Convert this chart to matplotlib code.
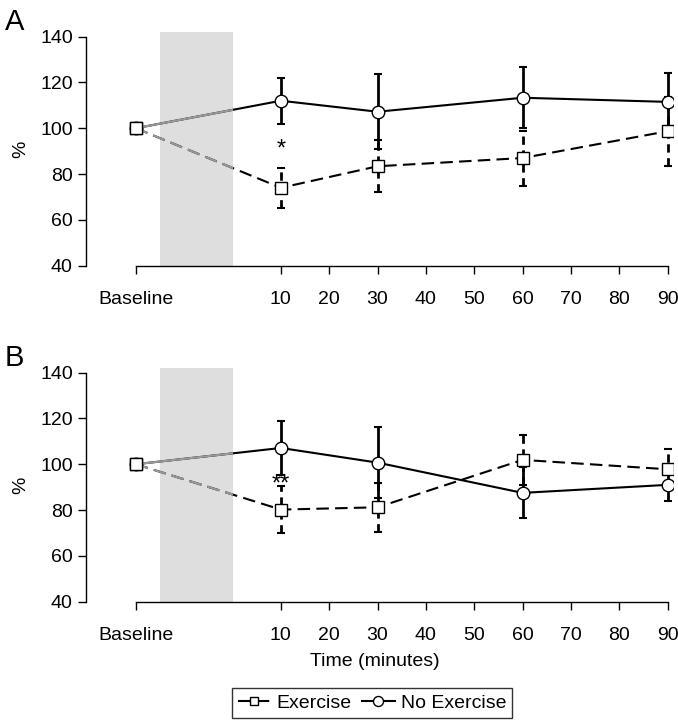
import matplotlib
matplotlib.use("Agg")
import matplotlib.pyplot as plt
from matplotlib.patches import Rectangle

plt.rcParams['font.family'] = ['Liberation Sans', 'DejaVu Sans']

# ---- data ----
time_points = [-20, 10, 30, 60, 90]          # -20 = Baseline position
tick_positions = [-20, 10, 20, 30, 40, 50, 60, 70, 80, 90]
tick_labels = ["Baseline", "10", "20", "30", "40", "50", "60", "70", "80", "90"]
exercise_period = (-15, 0)

# Panel A
a_exercise = [100, 74.0, 83.4, 87.0, 98.7]
a_exercise_err = [0, 8.6, 11.4, 12.0, 15.0]
a_noex = [100, 112.0, 107.2, 113.3, 111.5]
a_noex_err = [0, 10.0, 16.3, 13.3, 12.8]
a_sig = ("*", 10, 90.5)

# Panel B
b_exercise = [100, 80.2, 81.2, 101.9, 97.8]
b_exercise_err = [0, 10.2, 10.6, 10.9, 8.9]
b_noex = [100, 107.1, 100.7, 87.5, 91.0]
b_noex_err = [0, 11.6, 15.4, 11.1, 7.0]
b_sig = ("**", 10, 91.0)

yticks = [40, 60, 80, 100, 120, 140]

fig = plt.figure(figsize=(6.78, 7.23), dpi=100)

ax_left = 86 / 678
ax_w = (672.5 - 86) / 678
ax_h = 233.7 / 723
axA = fig.add_axes([ax_left, (723 - 265.7) / 723, ax_w, ax_h])
axB = fig.add_axes([ax_left, (723 - 601.7) / 723, ax_w, ax_h])


def draw(ax, ex, ex_err, nx, nx_err, sig):
    ax.set_xlim(-30.3, 91)
    ax.set_ylim(40, 142)
    ax.axvspan(exercise_period[0], exercise_period[1], color="#dedede", lw=0, zorder=0)

    # error bars
    e1 = ax.errorbar(time_points[1:], ex[1:], yerr=ex_err[1:], fmt="none",
                     ecolor="black", elinewidth=2, capsize=3, capthick=1.5, zorder=2)
    e1[2][0].set_linestyle((0, (3, 2)))
    ax.errorbar(time_points[1:], nx[1:], yerr=nx_err[1:], fmt="none",
                ecolor="black", elinewidth=2, capsize=3, capthick=1.5, zorder=2)

    # lines
    l1, = ax.plot(time_points, ex, color="black", lw=1.5, ls=(0, (6, 3)), zorder=3,
                  marker="s", markersize=8, markerfacecolor="white",
                  markeredgecolor="black", markeredgewidth=1, label="Exercise")
    l2, = ax.plot(time_points, nx, color="black", lw=1.5, ls="-", zorder=3,
                  marker="o", markersize=9, markerfacecolor="white",
                  markeredgecolor="black", markeredgewidth=1, label="No Exercise")
    # grey part of the first segment (up to end of exercise period)
    clip = Rectangle((time_points[0], 0), exercise_period[1] - time_points[0], 1000,
                     transform=ax.transData)
    g1, = ax.plot(time_points[:2], ex[:2], color="#999999", lw=1.5, ls=(0, (6, 3)), zorder=3.5)
    g2, = ax.plot(time_points[:2], nx[:2], color="#999999", lw=1.5, ls="-", zorder=3.5)
    g1.set_clip_path(clip)
    g2.set_clip_path(clip)
    # redraw baseline markers on top
    ax.plot(time_points[:1], ex[:1], ls="none", marker="s", markersize=8,
            markerfacecolor="white", markeredgecolor="black", markeredgewidth=1, zorder=4)

    ax.text(sig[1], sig[2], sig[0], ha="center", va="center", fontsize=17)

    for s in ["top", "right"]:
        ax.spines[s].set_visible(False)
    ax.spines["left"].set_bounds(40, 140)
    ax.spines["bottom"].set_bounds(-20, 90)
    ax.spines["left"].set_linewidth(1)
    ax.spines["bottom"].set_linewidth(1)
    ax.set_yticks(yticks)
    ax.set_xticks(tick_positions)
    ax.set_xticklabels(tick_labels)
    ax.tick_params(axis="both", labelsize=14, length=6, width=1, direction="out")
    ax.tick_params(axis="x", pad=12)
    ax.set_ylabel("%", fontsize=14, labelpad=8)
    return l1, l2


draw(axA, a_exercise, a_exercise_err, a_noex, a_noex_err, a_sig)
l1, l2 = draw(axB, b_exercise, b_exercise_err, b_noex, b_noex_err, b_sig)

fig.text(5 / 678, 1 - 8 / 723, "A", fontsize=21, ha="left", va="top")
fig.text(5 / 678, 1 - 344 / 723, "B", fontsize=21, ha="left", va="top")

fig.text(375 / 678, 1 - 662 / 723, "Time (minutes)", ha="center", va="center", fontsize=14)

leg = fig.legend([l1, l2], ["Exercise", "No Exercise"], loc="center",
                 bbox_to_anchor=(372 / 678, 1 - 703 / 723), ncol=2, frameon=True,
                 fancybox=False, edgecolor="black", fontsize=14, handlelength=1.7,
                 handletextpad=0.3, columnspacing=0.5, borderpad=0.3, markerscale=0.8)
leg.get_frame().set_linewidth(1)

fig.savefig("out.png", dpi=100)
